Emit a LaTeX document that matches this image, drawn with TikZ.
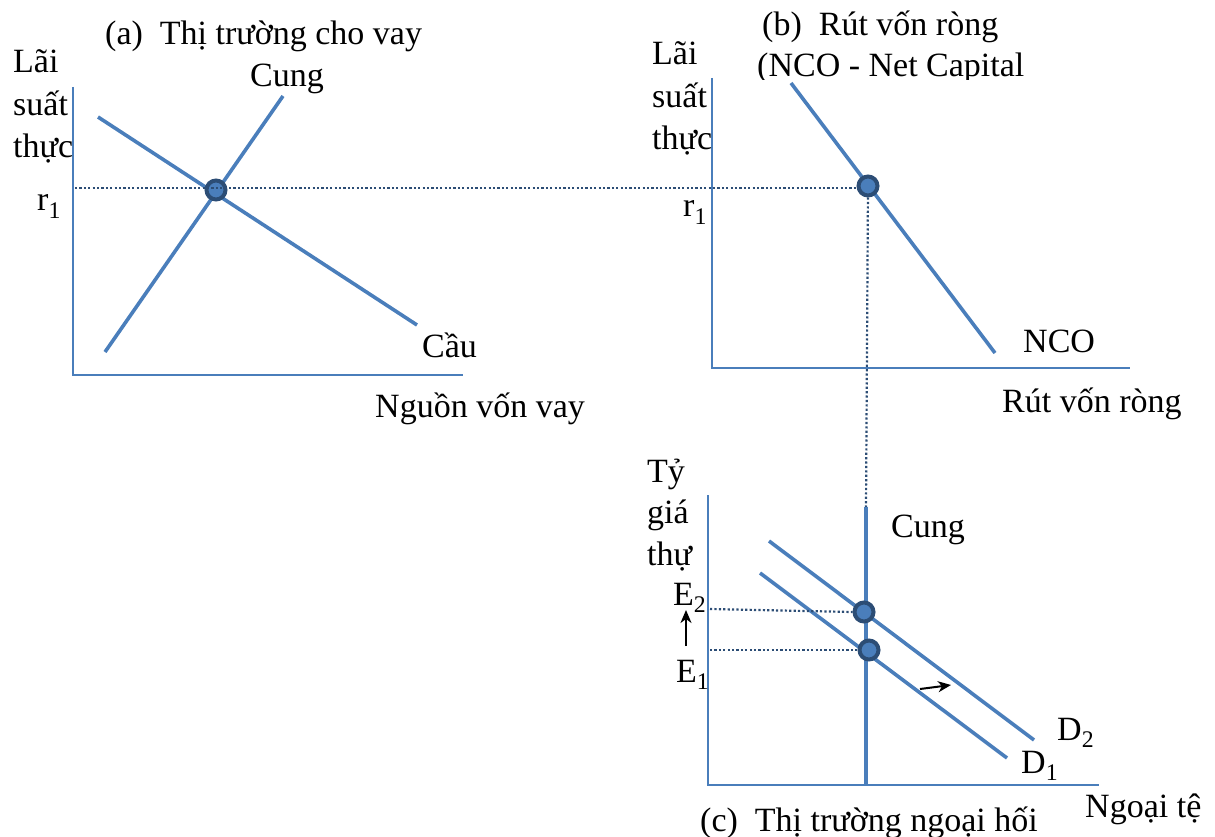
\documentclass[tikz,border=0pt]{standalone}
\usepackage{fontspec}
\setmainfont{Liberation Serif}
\usetikzlibrary{arrows.meta}
\definecolor{lineblue}{RGB}{74,126,187}
\definecolor{dotedge}{RGB}{44,77,117}
\begin{document}
\begin{tikzpicture}[x=1pt,y=-1pt,
  axisline/.style={draw=lineblue,line width=2.2pt},
  curve/.style={draw=lineblue,line width=3.6pt},
  guide/.style={draw=dotedge,line width=2.2pt,dash pattern=on 2.2pt off 2.2pt},
  eqdot/.style={circle,fill=lineblue,draw=dotedge,line width=4pt,minimum size=19pt,inner sep=0pt},
  lbl/.style={anchor=base west,inner sep=0pt,font=\fontsize{34}{40}\selectfont},
  movearrow/.style={draw=black,line width=2pt,-{Stealth[length=13pt,width=11pt,inset=4pt]}}]
\useasboundingbox (0,0) rectangle (1215,837);
% ---------- panel (a)
\coordinate (aO) at (73,375);
\coordinate (aTop) at (73,87);
\coordinate (aRight) at (463,375);
\draw[axisline] (aTop) -- (aO) -- (aRight);
\coordinate (dA1) at (98,117);
\coordinate (dA2) at (417,325);
\coordinate (sA1) at (105,352);
\coordinate (sA2) at (283,96);
\draw[curve] (dA1) -- (dA2);
\draw[curve] (sA1) -- (sA2);
\coordinate (rStart) at (75,188);
\node[eqdot] (eqA) at (216,190) {};
\node[lbl] (tA) at (105,45) {(a)\ \ Thị trường cho vay};
\node[lbl] (yA1) at (13,73) {Lãi};
\node[lbl] (yA2) at (13,116) {suất};
\node[lbl] (yA3) at (13,158) {thực};
\node[lbl] (rA) at (37,211) {r\textsubscript{1}};
\node[lbl] (cungA) at (250,87) {Cung};
\node[lbl] (cauA) at (422,357) {Cầu};
\node[lbl] (xA) at (375,417) {Nguồn vốn vay};
% ---------- panel (b)
\coordinate (bO) at (712,368);
\coordinate (bTop) at (712,78);
\coordinate (bRight) at (1130,368);
\draw[axisline] (bTop) -- (bO) -- (bRight);
\coordinate (nco1) at (791,83);
\coordinate (nco2) at (995,353);
\draw[curve] (nco1) -- (nco2);
\node[eqdot] (eqB) at (868,186) {};
\coordinate (rEnd) at (860,188);
\draw[guide] (rStart) -- (rEnd);
\node[lbl] (tB) at (762,36) {(b)\ \ Rút vốn ròng};
\begin{scope}
\clip (700,40) rectangle (1100,80);
\node[lbl] (tB2) at (757,77) {(NCO - Net Capital};
\end{scope}
\node[lbl] (yB1) at (652,65) {Lãi};
\node[lbl] (yB2) at (652,108) {suất};
\node[lbl] (yB3) at (652,150) {thực};
\node[lbl] (rB) at (683,217) {r\textsubscript{1}};
\node[lbl] (ncoL) at (1023,352) {NCO};
\node[lbl] (xB) at (1002,412) {Rút vốn ròng};
% ---------- panel (c)
\coordinate (cO) at (708,785);
\coordinate (cTop) at (708,495);
\coordinate (cRight) at (1099,785);
\draw[axisline] (cTop) -- (cO) -- (cRight);
\coordinate (supTop) at (866,507);
\coordinate (supBot) at (866,785);
\draw[guide] (eqB) -- (supTop);
\draw[curve] (supTop) -- (supBot);
\coordinate (d2a) at (769,541);
\coordinate (d2b) at (1034,740);
\coordinate (d1a) at (760,573);
\coordinate (d1b) at (1007,758);
\draw[curve] (d2a) -- (d2b);
\draw[curve] (d1a) -- (d1b);
\coordinate (e2L) at (710,609);
\coordinate (e1L) at (710,650);
\node[eqdot] (eq2) at (864,612) {};
\node[eqdot] (eq1) at (869,650) {};
\draw[guide] (e2L) -- (eq2.west);
\draw[guide] (e1L) -- (eq1.west);
\coordinate (upA) at (686,646);
\coordinate (upB) at (686,610);
\draw[movearrow] (upA) -- (upB);
\coordinate (rtA) at (920,689);
\coordinate (rtB) at (951,685);
\draw[movearrow] (rtA) -- (rtB);
\node[lbl] (yC1) at (647,482) {Tỷ};
\node[lbl] (yC2) at (647,523) {giá};
\node[lbl] (yC3) at (647,565) {thự};
\node[lbl] (e2) at (673,605) {E\textsubscript{2}};
\node[lbl] (e1) at (676,682) {E\textsubscript{1}};
\node[lbl] (cungC) at (891,537) {Cung};
\node[lbl] (d2) at (1057,740) {D\textsubscript{2}};
\node[lbl] (d1) at (1021,773) {D\textsubscript{1}};
\node[lbl] (xC) at (1085,817) {Ngoại tệ};
\node[lbl] (tC) at (700,831) {(c)\ \ Thị trường ngoại hối};
\end{tikzpicture}
\end{document}
